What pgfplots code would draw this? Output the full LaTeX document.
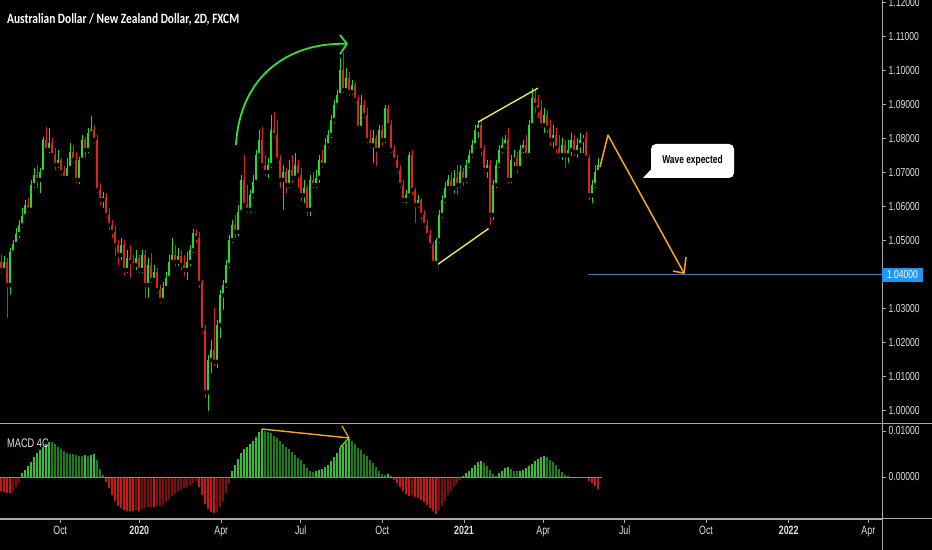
\documentclass[border=0pt]{standalone}
\usepackage{pgfplots}
\pgfplotsset{compat=1.18}
\usepackage{pgfplotstable}
\usepackage{fontspec}
\setmainfont{Liberation Sans}
\newfontfamily\tkf[FakeStretch=0.74]{Liberation Sans}
\newfontfamily\ttlf[FakeStretch=0.80]{Carlito}
\definecolor{upc}{RGB}{38,220,38}
\definecolor{dnc}{RGB}{225,35,25}
\definecolor{mg1}{RGB}{45,195,45}
\definecolor{mg2}{RGB}{22,130,22}
\definecolor{mr1}{RGB}{205,22,22}
\definecolor{mr2}{RGB}{128,12,12}
\definecolor{axg}{RGB}{170,170,170}
\definecolor{txt}{RGB}{225,225,225}
\definecolor{yel}{RGB}{240,228,80}
\definecolor{org}{RGB}{245,165,35}
\definecolor{arrg}{RGB}{50,225,50}
\definecolor{blul}{RGB}{70,120,180}
\definecolor{blub}{RGB}{33,150,243}
\pgfplotstableread{
x o h l c
1 1.0436 1.0456 1.0397 1.0412
4 1.0412 1.0453 1.0406 1.0436
7 1.0436 1.0447 1.0265 1.0368
10 1.0368 1.0477 1.0335 1.0465
13 1.0465 1.0500 1.0453 1.0488
16 1.0488 1.0535 1.0476 1.0518
19 1.0518 1.0559 1.0500 1.0544
22 1.0544 1.0594 1.0530 1.0571
25 1.0571 1.0618 1.0559 1.0603
28 1.0603 1.0623 1.0574 1.0589
31 1.0589 1.0677 1.0580 1.0662
34 1.0662 1.0712 1.0647 1.0691
37 1.0691 1.0721 1.0647 1.0677
40 1.0677 1.0712 1.0632 1.0700
43 1.0700 1.0803 1.0691 1.0794
46 1.0794 1.0832 1.0756 1.0765
49 1.0765 1.0830 1.0750 1.0785
52 1.0785 1.0800 1.0736 1.0750
55 1.0750 1.0771 1.0700 1.0721
58 1.0721 1.0765 1.0706 1.0736
61 1.0736 1.0742 1.0683 1.0700
64 1.0700 1.0718 1.0671 1.0683
67 1.0683 1.0742 1.0671 1.0712
70 1.0712 1.0785 1.0700 1.0759
73 1.0759 1.0779 1.0721 1.0736
76 1.0736 1.0759 1.0662 1.0677
79 1.0677 1.0745 1.0659 1.0736
82 1.0736 1.0809 1.0727 1.0794
85 1.0794 1.0803 1.0736 1.0765
88 1.0765 1.0830 1.0750 1.0815
91 1.0815 1.0865 1.0803 1.0824
94 1.0824 1.0838 1.0779 1.0794
97 1.0794 1.0809 1.0632 1.0647
100 1.0647 1.0668 1.0597 1.0618
103 1.0618 1.0641 1.0589 1.0627
106 1.0627 1.0638 1.0559 1.0574
109 1.0574 1.0594 1.0524 1.0544
112 1.0544 1.0559 1.0500 1.0524
115 1.0524 1.0541 1.0447 1.0485
118 1.0485 1.0500 1.0421 1.0456
121 1.0456 1.0506 1.0436 1.0485
124 1.0485 1.0500 1.0391 1.0412
127 1.0412 1.0471 1.0397 1.0447
130 1.0447 1.0485 1.0383 1.0436
133 1.0436 1.0456 1.0412 1.0427
136 1.0427 1.0471 1.0406 1.0447
139 1.0447 1.0456 1.0397 1.0412
142 1.0412 1.0471 1.0397 1.0456
145 1.0456 1.0471 1.0324 1.0368
148 1.0368 1.0447 1.0324 1.0427
151 1.0427 1.0462 1.0368 1.0383
154 1.0383 1.0427 1.0374 1.0406
157 1.0406 1.0418 1.0338 1.0353
160 1.0353 1.0368 1.0309 1.0324
163 1.0324 1.0377 1.0315 1.0359
166 1.0359 1.0406 1.0347 1.0389
169 1.0389 1.0456 1.0377 1.0436
172 1.0436 1.0506 1.0424 1.0456
175 1.0456 1.0485 1.0418 1.0436
178 1.0436 1.0477 1.0418 1.0453
181 1.0453 1.0471 1.0406 1.0427
184 1.0427 1.0456 1.0389 1.0412
187 1.0412 1.0465 1.0377 1.0436
190 1.0436 1.0485 1.0418 1.0471
193 1.0471 1.0533 1.0456 1.0521
196 1.0521 1.0530 1.0485 1.0506
199 1.0506 1.0524 1.0353 1.0374
202 1.0374 1.0383 1.0221 1.0236
205 1.0236 1.0250 1.0030 1.0053
208 1.0053 1.0162 0.9991 1.0148
211 1.0148 1.0206 1.0103 1.0177
214 1.0177 1.0300 1.0124 1.0142
217 1.0142 1.0265 1.0118 1.0250
220 1.0250 1.0353 1.0206 1.0338
223 1.0338 1.0383 1.0289 1.0368
226 1.0368 1.0442 1.0353 1.0427
229 1.0427 1.0515 1.0412 1.0500
232 1.0500 1.0559 1.0485 1.0544
235 1.0544 1.0574 1.0500 1.0524
238 1.0524 1.0603 1.0506 1.0583
241 1.0583 1.0691 1.0574 1.0677
244 1.0677 1.0750 1.0589 1.0603
247 1.0603 1.0662 1.0574 1.0589
250 1.0589 1.0647 1.0574 1.0632
253 1.0632 1.0691 1.0618 1.0671
256 1.0671 1.0765 1.0662 1.0750
259 1.0750 1.0824 1.0736 1.0794
262 1.0794 1.0832 1.0706 1.0721
265 1.0721 1.0750 1.0683 1.0700
268 1.0700 1.0742 1.0677 1.0721
271 1.0721 1.0868 1.0706 1.0824
274 1.0824 1.0877 1.0794 1.0809
277 1.0809 1.0853 1.0721 1.0736
280 1.0736 1.0750 1.0647 1.0677
283 1.0677 1.0721 1.0583 1.0700
286 1.0700 1.0712 1.0632 1.0662
289 1.0662 1.0736 1.0647 1.0706
292 1.0706 1.0750 1.0662 1.0683
295 1.0683 1.0756 1.0671 1.0721
298 1.0721 1.0736 1.0647 1.0691
301 1.0691 1.0712 1.0609 1.0632
304 1.0632 1.0677 1.0603 1.0653
307 1.0653 1.0662 1.0565 1.0589
310 1.0589 1.0691 1.0565 1.0677
313 1.0677 1.0700 1.0647 1.0662
316 1.0662 1.0706 1.0647 1.0683
319 1.0683 1.0750 1.0662 1.0736
322 1.0736 1.0765 1.0706 1.0721
325 1.0721 1.0800 1.0712 1.0779
328 1.0779 1.0824 1.0765 1.0809
331 1.0809 1.0868 1.0794 1.0853
334 1.0853 1.0912 1.0838 1.0897
337 1.0897 1.0941 1.0883 1.0926
340 1.0926 1.1035 1.0918 1.1000
343 1.1000 1.1050 1.0926 1.0941
346 1.0941 1.1006 1.0932 1.0977
349 1.0977 1.0994 1.0918 1.0935
352 1.0935 1.0971 1.0921 1.0956
355 1.0956 1.0965 1.0897 1.0912
358 1.0912 1.0926 1.0818 1.0830
361 1.0830 1.0926 1.0818 1.0897
364 1.0897 1.0912 1.0853 1.0868
367 1.0868 1.0889 1.0779 1.0794
370 1.0794 1.0824 1.0765 1.0779
373 1.0779 1.0824 1.0721 1.0800
376 1.0800 1.0809 1.0712 1.0765
379 1.0765 1.0838 1.0756 1.0824
382 1.0824 1.0838 1.0771 1.0794
385 1.0794 1.0897 1.0779 1.0889
388 1.0889 1.0897 1.0824 1.0838
391 1.0838 1.0853 1.0750 1.0765
394 1.0765 1.0779 1.0721 1.0736
397 1.0736 1.0750 1.0691 1.0706
400 1.0706 1.0721 1.0647 1.0662
403 1.0662 1.0677 1.0603 1.0618
406 1.0618 1.0647 1.0603 1.0632
409 1.0632 1.0759 1.0618 1.0750
412 1.0750 1.0765 1.0627 1.0647
415 1.0647 1.0653 1.0544 1.0603
418 1.0603 1.0632 1.0589 1.0618
421 1.0618 1.0624 1.0553 1.0574
424 1.0574 1.0589 1.0530 1.0544
427 1.0544 1.0559 1.0500 1.0515
430 1.0515 1.0530 1.0471 1.0485
433 1.0485 1.0494 1.0421 1.0433
436 1.0433 1.0506 1.0424 1.0500
439 1.0500 1.0589 1.0485 1.0574
442 1.0574 1.0632 1.0559 1.0618
445 1.0618 1.0671 1.0603 1.0653
448 1.0653 1.0691 1.0641 1.0677
451 1.0677 1.0700 1.0641 1.0653
454 1.0653 1.0706 1.0632 1.0683
457 1.0683 1.0721 1.0627 1.0662
460 1.0662 1.0721 1.0647 1.0700
463 1.0700 1.0712 1.0653 1.0677
466 1.0677 1.0736 1.0662 1.0721
469 1.0721 1.0765 1.0706 1.0750
472 1.0750 1.0794 1.0736 1.0779
475 1.0779 1.0838 1.0765 1.0824
478 1.0824 1.0847 1.0794 1.0838
481 1.0838 1.0853 1.0742 1.0765
484 1.0765 1.0779 1.0691 1.0706
487 1.0706 1.0736 1.0677 1.0721
490 1.0721 1.0736 1.0539 1.0574
493 1.0574 1.0677 1.0553 1.0662
496 1.0662 1.0736 1.0647 1.0721
499 1.0721 1.0779 1.0706 1.0765
502 1.0765 1.0800 1.0750 1.0779
505 1.0779 1.0809 1.0765 1.0794
508 1.0794 1.0830 1.0662 1.0677
511 1.0677 1.0750 1.0662 1.0736
514 1.0736 1.0765 1.0712 1.0742
517 1.0742 1.0759 1.0691 1.0712
520 1.0712 1.0779 1.0700 1.0765
523 1.0765 1.0794 1.0750 1.0779
526 1.0779 1.0809 1.0736 1.0750
529 1.0750 1.0853 1.0742 1.0838
532 1.0838 1.0947 1.0830 1.0918
535 1.0918 1.0941 1.0868 1.0897
538 1.0897 1.0926 1.0853 1.0883
541 1.0883 1.0912 1.0824 1.0838
544 1.0838 1.0889 1.0809 1.0868
547 1.0868 1.0883 1.0809 1.0830
550 1.0830 1.0853 1.0771 1.0794
553 1.0794 1.0838 1.0765 1.0809
556 1.0809 1.0830 1.0750 1.0771
559 1.0771 1.0809 1.0736 1.0750
562 1.0750 1.0800 1.0730 1.0779
565 1.0779 1.0794 1.0706 1.0750
568 1.0750 1.0794 1.0721 1.0765
571 1.0765 1.0815 1.0742 1.0794
574 1.0794 1.0809 1.0742 1.0759
577 1.0759 1.0800 1.0736 1.0779
580 1.0779 1.0815 1.0750 1.0794
583 1.0794 1.0809 1.0750 1.0800
586 1.0800 1.0818 1.0730 1.0742
589 1.0742 1.0750 1.0612 1.0632
592 1.0632 1.0677 1.0603 1.0662
595 1.0662 1.0721 1.0647 1.0700
598 1.0700 1.0742 1.0691 1.0721
}\candles
\pgfplotstableread{
x v k
1 -0.0030 3
4 -0.0032 3
7 -0.0034 3
10 -0.0035 3
13 -0.0030 4
16 -0.0022 4
19 -0.0012 4
22 0.0008 1
25 0.0015 1
28 0.0024 1
31 0.0033 1
34 0.0044 1
37 0.0052 1
40 0.0058 1
43 0.0065 1
46 0.0071 1
49 0.0076 1
52 0.0075 2
55 0.0072 2
58 0.0066 2
61 0.0060 2
64 0.0056 2
67 0.0053 2
70 0.0051 2
73 0.0049 2
76 0.0048 2
79 0.0046 2
82 0.0045 2
85 0.0047 1
88 0.0046 2
91 0.0048 1
94 0.0050 1
97 0.0036 2
100 0.0018 2
103 0.0004 2
106 -0.0010 3
109 -0.0025 3
112 -0.0040 3
115 -0.0052 3
118 -0.0062 3
121 -0.0068 3
124 -0.0071 3
127 -0.0073 3
130 -0.0073 3
133 -0.0074 3
136 -0.0072 4
139 -0.0073 3
142 -0.0070 4
145 -0.0068 4
148 -0.0066 4
151 -0.0065 4
154 -0.0066 3
157 -0.0064 4
160 -0.0063 4
163 -0.0060 4
166 -0.0055 4
169 -0.0048 4
172 -0.0042 4
175 -0.0037 4
178 -0.0033 4
181 -0.0029 4
184 -0.0025 4
187 -0.0021 4
190 -0.0017 4
193 -0.0012 4
196 -0.0008 4
199 -0.0022 3
202 -0.0040 3
205 -0.0058 3
208 -0.0070 3
211 -0.0076 3
214 -0.0078 3
217 -0.0075 4
220 -0.0066 4
223 -0.0052 4
226 -0.0035 4
229 -0.0015 4
232 0.0012 1
235 0.0025 1
238 0.0040 1
241 0.0052 1
244 0.0060 1
247 0.0066 1
250 0.0072 1
253 0.0078 1
256 0.0088 1
259 0.0098 1
262 0.0104 1
265 0.0100 2
268 0.0097 2
271 0.0095 2
274 0.0090 2
277 0.0084 2
280 0.0078 2
283 0.0072 2
286 0.0066 2
289 0.0060 2
292 0.0054 2
295 0.0048 2
298 0.0042 2
301 0.0036 2
304 0.0028 2
307 0.0020 2
310 0.0012 2
313 0.0011 2
316 0.0013 1
319 0.0015 1
322 0.0017 1
325 0.0021 1
328 0.0026 1
331 0.0034 1
334 0.0043 1
337 0.0052 1
340 0.0062 1
343 0.0068 1
346 0.0074 1
349 0.0082 1
352 0.0078 2
355 0.0072 2
358 0.0064 2
361 0.0058 2
364 0.0051 2
367 0.0045 2
370 0.0038 2
373 0.0030 2
376 0.0022 2
379 0.0013 2
382 0.0006 2
385 0.0004 2
388 0.0006 1
391 0.0003 2
394 -0.0006 3
397 -0.0014 3
400 -0.0022 3
403 -0.0030 3
406 -0.0037 3
409 -0.0042 3
412 -0.0040 4
415 -0.0043 3
418 -0.0046 3
421 -0.0050 3
424 -0.0055 3
427 -0.0060 3
430 -0.0067 3
433 -0.0074 3
436 -0.0080 3
439 -0.0072 4
442 -0.0062 4
445 -0.0052 4
448 -0.0040 4
451 -0.0030 4
454 -0.0022 4
457 -0.0014 4
460 -0.0006 4
463 0.0002 1
466 0.0008 1
469 0.0014 1
472 0.0020 1
475 0.0026 1
478 0.0032 1
481 0.0034 1
484 0.0030 2
487 0.0024 2
490 0.0015 2
493 0.0006 2
496 0.0003 2
499 0.0008 1
502 0.0014 1
505 0.0020 1
508 0.0022 1
511 0.0018 2
514 0.0014 2
517 0.0013 2
520 0.0014 1
523 0.0016 1
526 0.0019 1
529 0.0023 1
532 0.0028 1
535 0.0035 1
538 0.0040 1
541 0.0044 1
544 0.0045 1
547 0.0043 2
550 0.0038 2
553 0.0032 2
556 0.0025 2
559 0.0018 2
562 0.0011 2
565 0.0005 2
568 0.0002 2
571 0.0001 2
574 0.0001 2
577 0.0001 2
580 -0.0001 3
583 -0.0001 3
586 -0.0003 3
589 -0.0008 3
592 -0.0014 3
595 -0.0020 3
598 -0.0026 3
}\macd
\begin{document}
\begin{tikzpicture}[x=1bp,y=1bp]
\fill[black] (0bp,0bp) rectangle (932bp,550bp);
\begin{axis}[
  at={(0bp,126bp)}, anchor=south west, width=882bp, height=424bp, scale only axis,
  xmin=0, xmax=882, ymin=0.99594, ymax=1.1206,
  axis x line=none, axis y line*=right, axis line style={axg},
  ytick={1.00,1.01,1.02,1.03,1.04,1.05,1.06,1.07,1.08,1.09,1.10,1.11,1.12},
  yticklabels={1.00000,1.01000,1.02000,1.03000,1.04000,1.05000,1.06000,1.07000,1.08000,1.09000,1.10000,1.11000,1.12000},
  scaled y ticks=false,
  tick align=outside, major tick length=4bp, tick style={axg, line width=0.6bp},
  yticklabel style={font=\tkf\fontsize{11.6}{13}\selectfont, text=txt, inner sep=0pt, xshift=2.5bp},
]
% wicks
\addplot[only marks, mark=none, restrict expr to domain={\thisrow{c}-\thisrow{o}}{0:1},
  error bars/.cd, y dir=plus, y explicit, error mark=none,
  error bar style={draw=upc, line width=0.75bp}]
  table[x=x, y=l, y error expr=\thisrow{h}-\thisrow{l}] {\candles};
\addplot[only marks, mark=none, restrict expr to domain={\thisrow{c}-\thisrow{o}}{-1:0},
  error bars/.cd, y dir=plus, y explicit, error mark=none,
  error bar style={draw=dnc, line width=0.75bp}]
  table[x=x, y=l, y error expr=\thisrow{h}-\thisrow{l}] {\candles};
% bodies
\addplot[only marks, mark=none, restrict expr to domain={\thisrow{c}-\thisrow{o}}{0:1},
  error bars/.cd, y dir=plus, y explicit, error mark=none,
  error bar style={draw=upc, line width=2.2bp}]
  table[x=x, y=o, y error expr=\thisrow{c}-\thisrow{o}] {\candles};
\addplot[only marks, mark=none, restrict expr to domain={\thisrow{c}-\thisrow{o}}{-1:0},
  error bars/.cd, y dir=plus, y explicit, error mark=none,
  error bar style={draw=dnc, line width=2.2bp}]
  table[x=x, y=c, y error expr=\thisrow{o}-\thisrow{c}] {\candles};
% annotations
\draw[blul, line width=1bp] (axis cs:588,1.04) -- (axis cs:882,1.04);
\draw[yel, line width=1.4bp] (axis cs:434,1.0421) -- (axis cs:491,1.0539);
\draw[yel, line width=1.4bp] (axis cs:478,1.0847) -- (axis cs:538,1.0947);
\draw[org, line width=1.5bp, line join=round] (axis cs:600,1.0715) -- (axis cs:608,1.0809) -- (axis cs:684,1.0403);
\draw[org, line width=1.5bp, line join=round] (axis cs:673,1.0409) -- (axis cs:684,1.0403) -- (axis cs:686,1.0450);
\draw[arrg, line width=1.8bp] (axis cs:236,1.0780) .. controls (axis cs:240,1.0986) and (axis cs:290,1.1083) .. (axis cs:347,1.1077);
\draw[arrg, line width=1.8bp, line join=round] (axis cs:340,1.1103) -- (axis cs:347,1.1077) -- (axis cs:340,1.1047);
\end{axis}
\begin{axis}[
  at={(0bp,31bp)}, anchor=south west, width=882bp, height=95bp, scale only axis,
  xmin=0, xmax=882, ymin=-0.00913, ymax=0.01152,
  axis x line*=bottom, axis y line*=right, axis line style={axg},
  xtick={60.3,139.3,221.3,300.7,382.3,464,543.3,624.7,706,788.7,868.3},
  xticklabels={Oct,\textbf{2020},Apr,Jul,Oct,\textbf{2021},Apr,Jul,Oct,\textbf{2022},Apr},
  ytick={0,0.01}, yticklabels={0.00000,0.01000},
  scaled y ticks=false,
  tick align=outside, major tick length=4bp, tick style={axg, line width=0.6bp},
  yticklabel style={font=\tkf\fontsize{11.6}{13}\selectfont, text=txt, inner sep=0pt, xshift=2.5bp},
  xticklabel style={font=\tkf\fontsize{12}{14}\selectfont, text=txt, inner sep=0pt, yshift=-3bp},
]
\addplot[ycomb, mark=none, draw=mg1, line width=2.5bp, restrict expr to domain={\thisrow{k}}{0.5:1.5}] table[x=x, y=v] {\macd};
\addplot[ycomb, mark=none, draw=mg2, line width=2.5bp, restrict expr to domain={\thisrow{k}}{1.5:2.5}] table[x=x, y=v] {\macd};
\addplot[ycomb, mark=none, draw=mr1, line width=2.5bp, restrict expr to domain={\thisrow{k}}{2.5:3.5}] table[x=x, y=v] {\macd};
\addplot[ycomb, mark=none, draw=mr2, line width=2.5bp, restrict expr to domain={\thisrow{k}}{3.5:4.5}] table[x=x, y=v] {\macd};
\draw[axg!80!black, line width=0.8bp] (axis cs:0,0) -- (axis cs:602,0);
\draw[org, line width=1.4bp] (axis cs:262,0.01043) -- (axis cs:349,0.00848);
\draw[org, line width=1.2bp] (axis cs:342,0.0111) -- (axis cs:349,0.00848);
\draw[arrg!70!yellow, line width=1.2bp] (axis cs:340,0.0064) -- (axis cs:349,0.00848);
\end{axis}
\draw[axg, line width=1bp] (0bp,126bp) -- (932bp,126bp);
\draw[axg, line width=1bp] (0bp,31bp) -- (932bp,31bp);
\draw[axg, line width=1bp] (882bp,0bp) -- (882bp,550bp);
\node[anchor=base west, text=white, font=\ttlf\bfseries\fontsize{14.3}{16}\selectfont, inner sep=0pt] at (7bp,526bp) {Australian Dollar / New Zealand Dollar, 2D, FXCM};
\node[anchor=west, text=txt, font=\tkf\fontsize{12.5}{14}\selectfont, inner sep=0pt] at (7bp,107bp) {MACD 4C};
\fill[white, rounded corners=5bp] (651bp,372bp) rectangle (734bp,406bp);
\fill[white] (651.5bp,381bp) -- (643bp,372bp) -- (664bp,372bp) -- cycle;
\node[text=black, font=\tkf\bfseries\fontsize{11.4}{13}\selectfont, inner sep=0pt] at (692.5bp,389bp) {Wave expected};
\fill[blub] (882bp,268bp) rectangle (923bp,282bp);
\node[text=white, font=\tkf\fontsize{11.6}{13}\selectfont, inner sep=0pt] at (902.5bp,275bp) {1.04000};
\pgfresetboundingbox
\useasboundingbox (0bp,0bp) rectangle (932bp,550bp);
\end{tikzpicture}
\end{document}
